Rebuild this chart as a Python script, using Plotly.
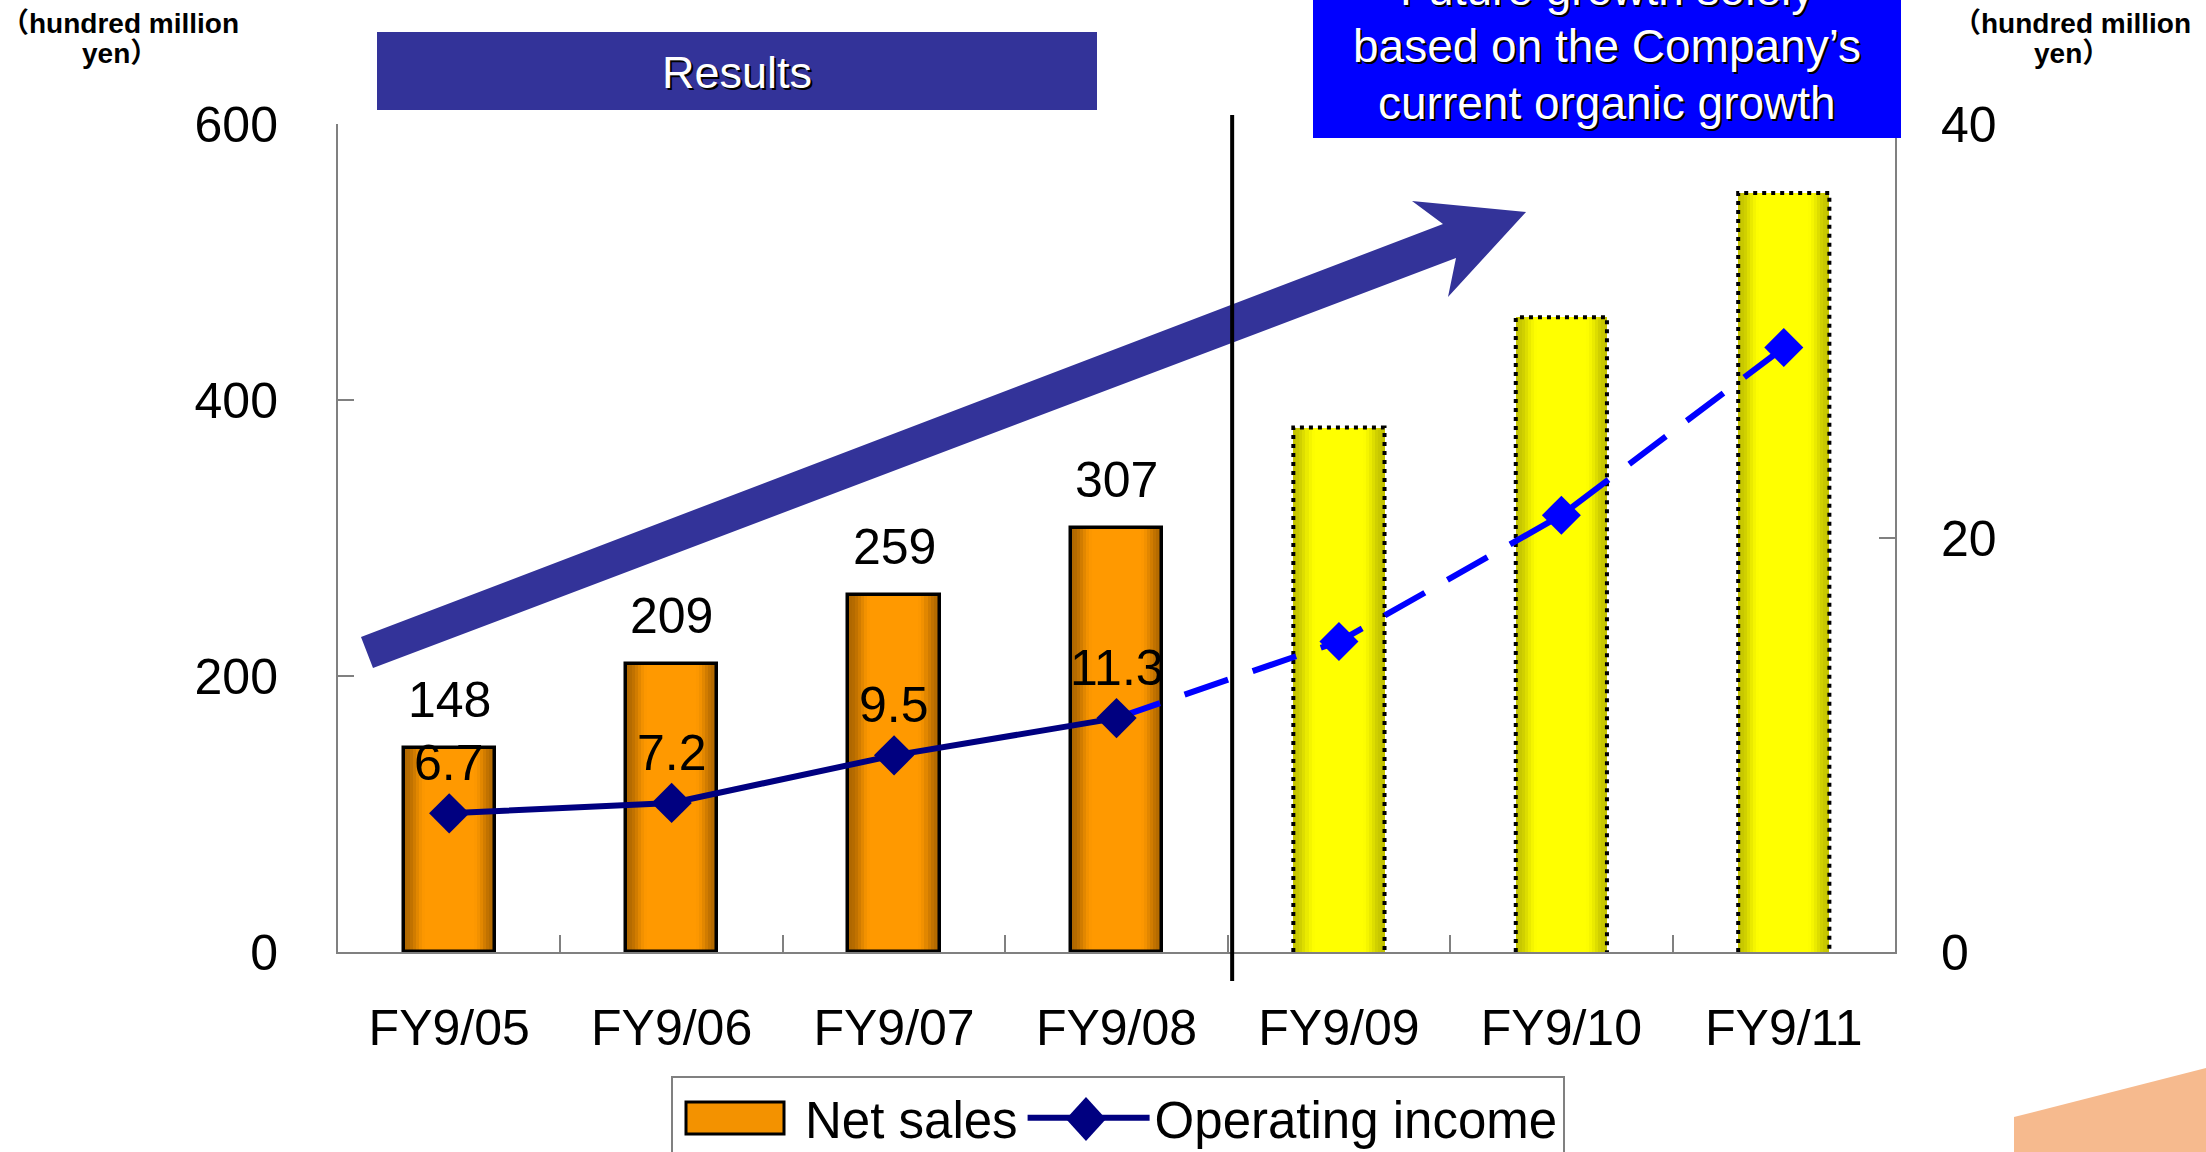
import plotly.graph_objects as go

# ---- data -------------------------------------------------------------
categories = ["FY9/05", "FY9/06", "FY9/07", "FY9/08", "FY9/09", "FY9/10", "FY9/11"]
net_sales_actual = [148, 209, 259, 307]          # hundred million yen
net_sales_plan = [380, 460, 550]
op_income_actual = [6.7, 7.2, 9.5, 11.3]         # hundred million yen
op_income_plan = [15.0, 21.1, 29.2]
left_ticks = [0, 200, 400, 600]
right_ticks = [0, 20, 40]

# ---- canvas geometry ---------------------------------------------------
W, H = 2206, 1152
ML, MR, MT, MB = 338, 311, 124, 200
PW, PH = W - ML - MR, H - MT - MB


def fx(px):
    return (px - ML) / PW


def fy(py):
    return (H - MB - py) / PH


FONT = "Liberation Sans, Arial, Noto Sans CJK JP, sans-serif"
BAR_W = 0.41
ORANGE = "#F39200"
NAVY = "#000080"

n_act = len(net_sales_actual)
x_act = list(range(n_act))
x_plan = list(range(n_act, len(categories)))


def mix(c1, c2, t):
    return "rgb({},{},{})".format(*[round(a + (b - a) * t) for a, b in zip(c1, c2)])


def gradient_layers(xs, ys, edge, centre, steps=12):
    """Stack narrowing bars so each column shades from its edges to its centre."""
    layers = []
    for k in range(steps):
        frac = 1 - k / steps * 0.8
        t = min(1.0, (1 - frac) / 0.45)
        t = t * t * (3 - 2 * t)
        layers.append(go.Bar(
            x=xs, y=ys, width=BAR_W * frac, yaxis="y",
            marker=dict(color=mix(edge, centre, t), line=dict(width=0)),
            showlegend=False, hoverinfo="skip"))
    return layers


fig = go.Figure()

# legend entry for the sales columns (its swatch is the box drawn under the legend)
fig.add_trace(go.Scatter(x=[None], y=[None], mode="lines", name="Net sales",
                         line=dict(color="rgba(0,0,0,0)", width=2)))

# actual sales columns (orange) and planned columns (yellow)
for tr in gradient_layers(x_act, net_sales_actual, (176, 104, 0), (255, 153, 0)):
    fig.add_trace(tr)
fig.add_trace(go.Bar(x=x_act, y=net_sales_actual, width=BAR_W, yaxis="y",
                     marker=dict(color="rgba(0,0,0,0)", line=dict(color="black", width=3.5)),
                     showlegend=False, hoverinfo="skip"))
for tr in gradient_layers(x_plan, net_sales_plan, (196, 196, 0), (255, 255, 0)):
    fig.add_trace(tr)

# dotted outline of the planned columns
ox, oy = [], []
for xi, v in zip(x_plan, net_sales_plan):
    ox += [xi - BAR_W / 2, xi - BAR_W / 2, xi + BAR_W / 2, xi + BAR_W / 2, None]
    oy += [0, v, v, 0, None]
fig.add_trace(go.Scatter(x=ox, y=oy, mode="lines", yaxis="y",
                         line=dict(color="black", width=4, dash="4px,5px"),
                         showlegend=False, hoverinfo="skip"))

# operating income: plan as dashed blue, actual as solid navy
fig.add_trace(go.Scatter(x=[x_act[-1]] + x_plan, y=[op_income_actual[-1]] + op_income_plan,
                         mode="lines", yaxis="y2",
                         line=dict(color="#0000FF", width=6, dash="46px,26px"),
                         showlegend=False, hoverinfo="skip"))
fig.add_trace(go.Scatter(x=x_act, y=op_income_actual, mode="lines+markers", yaxis="y2",
                         name="Operating income",
                         line=dict(color=NAVY, width=6),
                         marker=dict(symbol="diamond", size=31, color=NAVY)))
fig.add_trace(go.Scatter(x=x_plan, y=op_income_plan, mode="markers", yaxis="y2",
                         marker=dict(symbol="diamond", size=30, color="#0000FF"),
                         showlegend=False, hoverinfo="skip"))

# ---- value labels ------------------------------------------------------
annotations = []
for xi, v in zip(x_act, net_sales_actual):
    annotations.append(dict(x=xi, y=v, xref="x", yref="y", text=str(v), showarrow=False,
                            yanchor="middle", yshift=48, font=dict(size=50, color="black")))
for xi, v in zip(x_act, op_income_actual):
    annotations.append(dict(x=xi, y=v, xref="x", yref="y2", text=f"{v:.1f}", showarrow=False,
                            yanchor="middle", yshift=50, font=dict(size=50, color="black")))

# headers
annotations.append(dict(x=fx(737), y=fy(73), xref="paper", yref="paper", text="Results",
                        showarrow=False, xanchor="center", yanchor="middle",
                        font=dict(size=45, color="white", shadow="2px 2px 0px #000000")))
for text, cy in [("Future growth solely", -11),
                 ("based on the Company\u2019s", 46),
                 ("current organic growth", 103)]:
    annotations.append(dict(x=fx(1607), y=fy(cy), xref="paper", yref="paper", text=text,
                            showarrow=False, xanchor="center", yanchor="middle",
                            font=dict(size=46, color="white", shadow="2px 2px 0px #000000")))

# unit captions for both axes
for cx in (120, 2072):
    annotations.append(dict(x=fx(cx), y=fy(24), xref="paper", yref="paper",
                            text="\uff08hundred million", showarrow=False,
                            xanchor="center", yanchor="middle",
                            font=dict(size=28, color="black", weight=700)))
    annotations.append(dict(x=fx(cx), y=fy(53), xref="paper", yref="paper",
                            text="yen\uff09", showarrow=False,
                            xanchor="center", yanchor="middle",
                            font=dict(size=28, color="black", weight=700)))

# ---- decorative shapes -------------------------------------------------
def path(points):
    return "M " + " L ".join(f"{fx(px):.5f},{fy(py):.5f}" for px, py in points) + " Z"


arrow = [(361, 637), (1443, 224), (1412, 201), (1526, 212), (1448, 297), (1456, 258), (373, 668)]
corner = [(2014, 1117), (2206, 1068), (2206, 1160), (2014, 1160)]
legend_diamond = [(1086, 1097), (1106, 1119), (1086, 1141), (1066, 1119)]

shapes = [
    dict(type="path", xref="paper", yref="paper", path=path(corner),
         fillcolor="#F6BA8E", line=dict(width=0), layer="below"),
    dict(type="rect", xref="paper", yref="paper", x0=fx(377), x1=fx(1097), y0=fy(110), y1=fy(32),
         fillcolor="#333399", line=dict(width=0)),
    dict(type="rect", xref="paper", yref="paper", x0=fx(1313), x1=fx(1901), y0=fy(138), y1=fy(-10),
         fillcolor="#0000FF", line=dict(width=0)),
    dict(type="path", xref="paper", yref="paper", path=path(arrow),
         fillcolor="#333399", line=dict(width=0)),
    dict(type="line", xref="x", yref="paper", x0=3.52, x1=3.52, y0=fy(981), y1=fy(115),
         line=dict(color="black", width=4)),
    # larger legend symbols
    dict(type="rect", xref="paper", yref="paper", x0=fx(686), x1=fx(784), y0=fy(1134), y1=fy(1102),
         fillcolor=ORANGE, line=dict(color="black", width=3)),
    dict(type="path", xref="paper", yref="paper", path=path(legend_diamond),
         fillcolor=NAVY, line=dict(width=0)),
]

fig.update_layout(
    width=W, height=H,
    margin=dict(l=ML, r=MR, t=MT, b=MB, autoexpand=False),
    paper_bgcolor="white", plot_bgcolor="white",
    font=dict(family=FONT, size=50, color="black"),
    barmode="overlay", bargap=0,
    showlegend=True,
    legend=dict(orientation="h", x=fx(1118), xanchor="center", y=fy(1076), yanchor="top",
                bordercolor="#808080", borderwidth=2, bgcolor="rgba(0,0,0,0)",
                font=dict(size=51), itemwidth=122, traceorder="normal"),
    xaxis=dict(range=[-0.5, len(categories) - 0.5], tickmode="array",
               tickvals=list(range(len(categories))), ticktext=categories,
               ticks="", showline=True, linecolor="#808080", linewidth=2,
               showgrid=False, zeroline=False, ticklabelstandoff=31,
               minor=dict(tickvals=[i + 0.5 for i in range(len(categories) - 1)],
                          ticks="inside", ticklen=17, tickcolor="#808080", tickwidth=1.5)),
    yaxis=dict(range=[0, 600], tickvals=left_ticks, ticks="inside", ticklen=16,
               tickcolor="#808080", tickwidth=1.5, showline=True, linecolor="#808080",
               linewidth=2, showgrid=False, zeroline=False, ticklabelstandoff=48),
    yaxis2=dict(range=[0, 40], tickvals=right_ticks, overlaying="y", side="right",
                ticks="inside", ticklen=16, tickcolor="#808080", tickwidth=1.5,
                showline=True, linecolor="#808080", linewidth=2, showgrid=False,
                zeroline=False, ticklabelstandoff=34),
    annotations=annotations,
    shapes=shapes,
)

fig.write_html("out.html")
